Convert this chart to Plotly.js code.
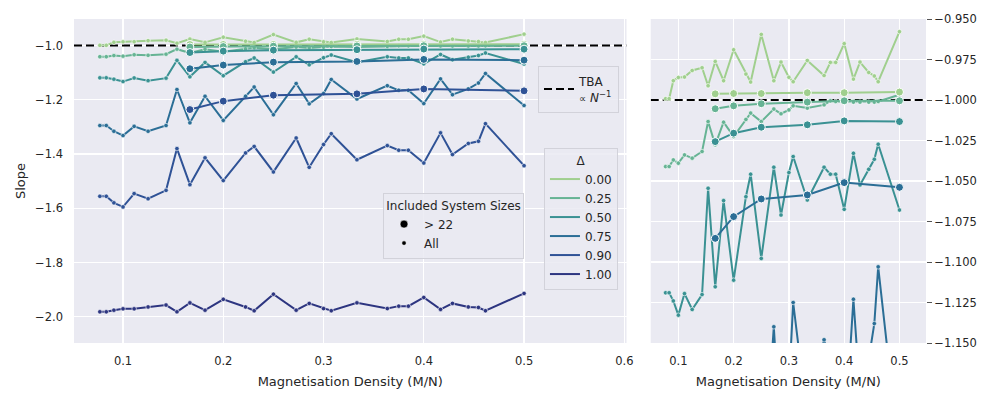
<!DOCTYPE html>
<html>
<head>
<meta charset="utf-8">
<script src="https://cdn.plot.ly/plotly-3.0.1.min.js"></script>
<style>
  body { margin: 0; background: #ffffff; }
  #chart { width: 997px; height: 399px; }
</style>
</head>
<body>
<div id="chart"></div>
<script>
// magnetisation densities M/N (all system sizes)
const densityAll = [0.0769, 0.0833, 0.0909, 0.1, 0.1111, 0.125, 0.1429, 0.1538, 0.1667, 0.1818,
    0.2, 0.2222, 0.2308, 0.25, 0.2727, 0.2857, 0.3, 0.3077, 0.3333, 0.3636,
    0.375, 0.3846, 0.4, 0.4167, 0.4286, 0.4444, 0.4545, 0.4615, 0.5];
// densities left when only N > 22 is used
const densityLarge = [0.1667, 0.2, 0.25, 0.3333, 0.4, 0.5];

const deltaLabels = ['0.00', '0.25', '0.50', '0.75', '0.90', '1.00'];
const sizeLabels = ['&gt; 22', 'All'];

// slopes, all system sizes
const slopeAll000 = [-0.9992, -0.9992, -0.9881, -0.9861, -0.9858, -0.9818, -0.9801, -0.9912, -0.9762, -0.9881,
    -0.9690, -0.9840, -0.9889, -0.9595, -0.9881, -0.9766, -0.9860, -0.9887, -0.9756, -0.9849,
    -0.9768, -0.9768, -0.9652, -0.9871, -0.9766, -0.9830, -0.9852, -0.9887, -0.9578];
const slopeAll025 = [-1.0411, -1.0411, -1.0370, -1.0390, -1.0339, -1.0359, -1.0318, -1.0133, -1.0277, -1.0137,
    -1.0226, -1.0120, -1.0081, -1.0133, -1.0056, -1.0085, -1.0061, -1.0036, -1.0050, -1.0030,
    -1.0005, -1.0009, -1.0009, -1.0013, -1.0013, -1.0013, -1.0013, -1.0009, -0.9968];
const slopeAll050 = [-1.1190, -1.1190, -1.1240, -1.1328, -1.1195, -1.1293, -1.1201, -1.0545, -1.1153, -1.0621,
    -1.1112, -1.0597, -1.0458, -1.0978, -1.0415, -1.0710, -1.0448, -1.0349, -1.0617, -1.0415,
    -1.0458, -1.0458, -1.0675, -1.0329, -1.0524, -1.0428, -1.0366, -1.0273, -1.0679];
const slopeAll075 = [-1.295, -1.295, -1.316, -1.332, -1.298, -1.316, -1.295, -1.162, -1.285, -1.187,
    -1.276, -1.187, -1.153, -1.255, -1.140, -1.215, -1.177, -1.125, -1.197, -1.148,
    -1.165, -1.165, -1.214, -1.123, -1.181, -1.160, -1.138, -1.103, -1.221];
const slopeAll090 = [-1.556, -1.556, -1.580, -1.595, -1.546, -1.565, -1.534, -1.380, -1.513, -1.414,
    -1.498, -1.396, -1.372, -1.466, -1.341, -1.449, -1.365, -1.325, -1.421, -1.369,
    -1.386, -1.386, -1.433, -1.322, -1.402, -1.361, -1.353, -1.288, -1.443];
const slopeAll100 = [-1.982, -1.982, -1.976, -1.971, -1.971, -1.964, -1.957, -1.982, -1.949, -1.976,
    -1.936, -1.964, -1.978, -1.917, -1.976, -1.951, -1.970, -1.978, -1.949, -1.970,
    -1.961, -1.961, -1.929, -1.973, -1.951, -1.964, -1.966, -1.978, -1.914];

// slopes, only N > 22 (none for delta = 1)
const slopeLarge000 = [-0.9962, -0.9960, -0.9960, -0.9955, -0.9955, -0.9951];
const slopeLarge025 = [-1.0054, -1.0036, -1.0023, -1.0013, -1.0005, -1.0005];
const slopeLarge050 = [-1.0257, -1.0205, -1.0168, -1.0153, -1.0129, -1.0133];
const slopeLarge075 = [-1.0854, -1.0720, -1.0611, -1.0586, -1.0510, -1.0539];
const slopeLarge090 = [-1.236, -1.205, -1.183, -1.178, -1.160, -1.167];

// TBA prediction, slope of N^-1
const tbaSlope = -1;

const slopeAll = [slopeAll000, slopeAll025, slopeAll050, slopeAll075, slopeAll090, slopeAll100];
const slopeLarge = [slopeLarge000, slopeLarge025, slopeLarge050, slopeLarge075, slopeLarge090, null];

const leftRange = [0.0511, 0.6022];
const rightRange = [0.05, 0.548];

const colors = ['#a0cf8e', '#66b394', '#3a9193', '#2b6e96', '#2f5296', '#2d3580'];
const textColor = '#262626';
const font = 'DejaVu Sans, sans-serif';
const tbaLine = { color: '#000000', width: 2, dash: '8px,4px' };


function seriesTrace(xs, ys, color, big, axis) {
    return {
        x: xs,
        y: ys,
        xaxis: 'x' + axis,
        yaxis: 'y' + axis,
        type: 'scatter',
        mode: 'lines+markers',
        line: { color: color, width: 2 },
        marker: {
            color: color,
            size: big ? 8 : 4.5,
            line: { color: '#ffffff', width: big ? 1 : 0.6 }
        },
        showlegend: false,
        hoverinfo: 'skip'
    };
}

const data = [];

// dashed TBA line under everything, one per panel
data.push({
    x: leftRange, y: [tbaSlope, tbaSlope], xaxis: 'x', yaxis: 'y',
    type: 'scatter', mode: 'lines', line: tbaLine,
    name: 'TBA<br><span style="font-size:10px">∝</span> <i>N</i><sup>−1</sup>',
    legend: 'legend', showlegend: true
});
data.push({
    x: rightRange, y: [tbaSlope, tbaSlope], xaxis: 'x2', yaxis: 'y2',
    type: 'scatter', mode: 'lines', line: tbaLine, showlegend: false
});

// small "All" lines first, then N > 22 on top, in both panels
['', '2'].forEach(axis => {
    slopeAll.forEach((ys, i) => data.push(seriesTrace(densityAll, ys, colors[i], false, axis)));
    slopeLarge.forEach((ys, i) => {
        if (ys) data.push(seriesTrace(densityLarge, ys, colors[i], true, axis));
    });
});

// legend entries
deltaLabels.forEach((label, i) => {
    data.push({
        x: [null], y: [null], type: 'scatter', mode: 'lines',
        line: { color: colors[i], width: 2 },
        name: label,
        legend: 'legend2'
    });
});
sizeLabels.forEach((label, i) => {
    data.push({
        x: [null], y: [null], type: 'scatter', mode: 'markers',
        marker: { color: '#000000', size: i === 0 ? 8 : 4.5, line: { color: '#ffffff', width: 0.6 } },
        name: label,
        legend: 'legend3'
    });
});

const gridAxis = {
    showgrid: true,
    gridcolor: '#ffffff',
    gridwidth: 1.2,
    zeroline: false,
    showline: false,
    tickfont: { family: font, size: 11.5, color: textColor }
};

const xTitle = {
    text: 'Magnetisation Density (M/N)',
    font: { family: font, size: 13, color: textColor },
    standoff: 10
};

const legendBox = {
    bgcolor: 'rgba(234,234,242,0.85)',
    bordercolor: '#d2d2da',
    borderwidth: 1,
    font: { family: font, size: 12, color: textColor },
    xanchor: 'left',
    yanchor: 'top',
    tracegroupgap: 0
};

const layout = {
    width: 997,
    height: 399,
    margin: { l: 74, r: 71, t: 19, b: 56 },
    paper_bgcolor: '#ffffff',
    plot_bgcolor: '#eaeaf2',
    font: { family: font, color: textColor },
    xaxis: Object.assign({}, gridAxis, {
        domain: [0, 0.6485], range: leftRange, dtick: 0.1, tick0: 0, tickformat: '.1f',
        anchor: 'y', ticklabelstandoff: 9, title: xTitle
    }),
    yaxis: Object.assign({}, gridAxis, {
        domain: [0, 1], range: [-2.097, -0.902], dtick: 0.2, tick0: 0, tickformat: '.1f',
        anchor: 'x', ticklabelstandoff: 10,
        title: { text: 'Slope', font: { family: font, size: 13, color: textColor }, standoff: 6 }
    }),
    xaxis2: Object.assign({}, gridAxis, {
        domain: [0.6769, 1], range: rightRange, dtick: 0.1, tick0: 0, tickformat: '.1f',
        anchor: 'y2', ticklabelstandoff: 9, title: xTitle
    }),
    yaxis2: Object.assign({}, gridAxis, {
        domain: [0, 1], range: [-1.15, -0.95], dtick: 0.025, tick0: 0, tickformat: '.3f',
        anchor: 'x2', side: 'right', ticks: 'outside', ticklen: 5, tickwidth: 1, tickcolor: '#555555'
    }),
    legend: Object.assign({}, legendBox, { x: 0.5446, y: 0.855 }),
    legend2: Object.assign({}, legendBox, {
        x: 0.5516, y: 0.602,
        title: { text: 'Δ', side: 'top center', font: { family: font, size: 12, color: textColor } }
    }),
    legend3: Object.assign({}, legendBox, {
        x: 0.3627, y: 0.463,
        title: { text: 'Included System Sizes', side: 'top center', font: { family: font, size: 12, color: textColor } }
    }),
    hovermode: false
};

Plotly.newPlot('chart', data, layout, { displayModeBar: false, staticPlot: true });
</script>
</body>
</html>
